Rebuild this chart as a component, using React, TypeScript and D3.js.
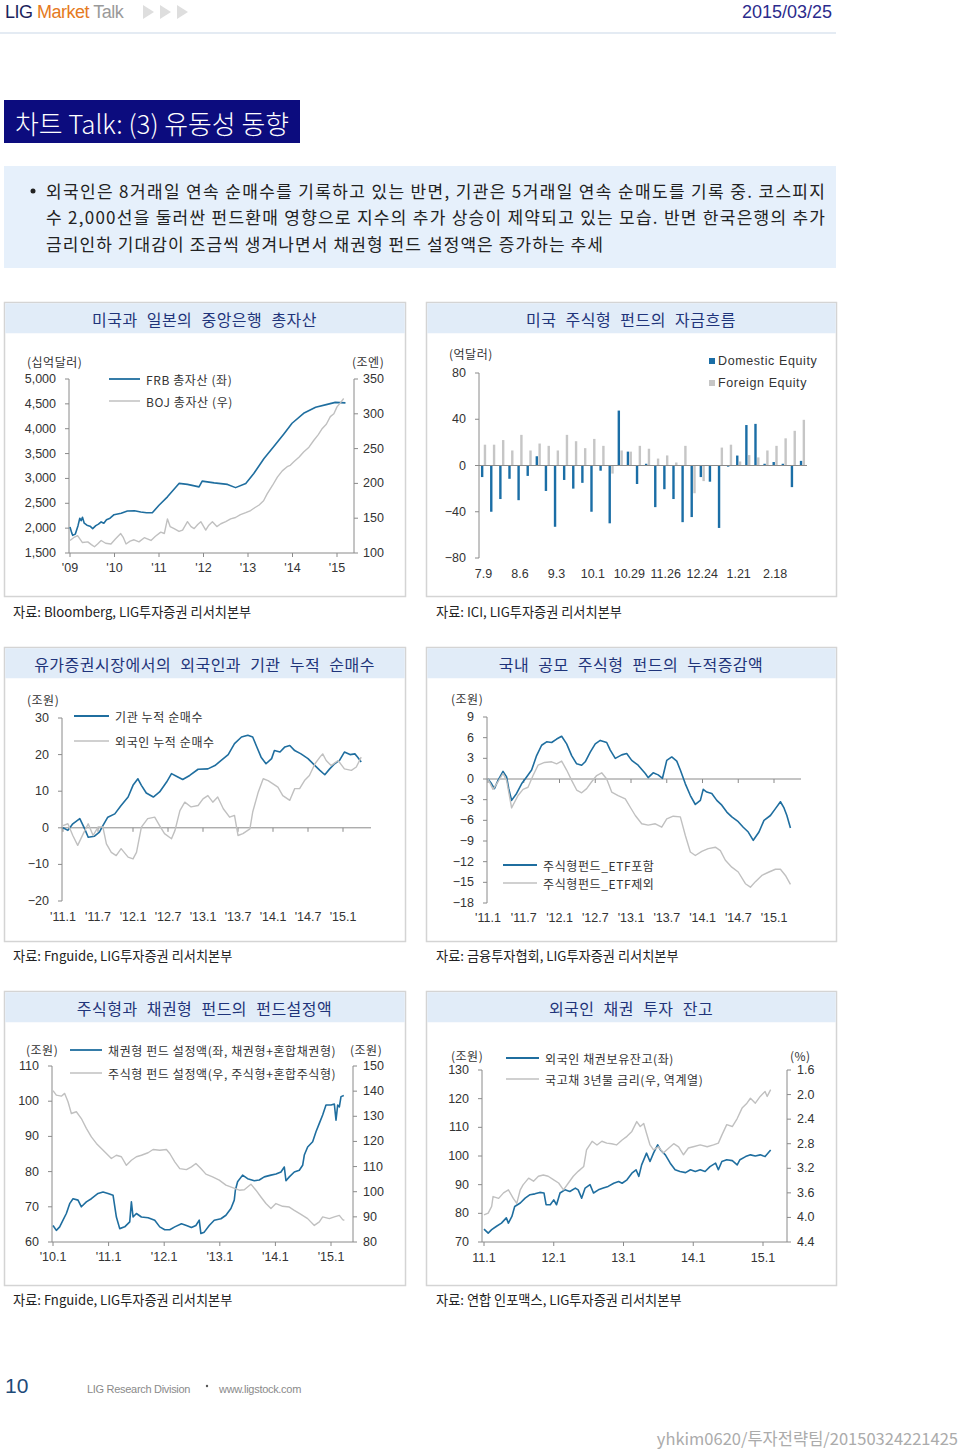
import React from 'react';
import * as d3 from 'd3';

// ---------- Chart 1: 미국과 일본의 중앙은행 총자산 ----------
const c1Years = [2009, 2010, 2011, 2012, 2013, 2014, 2015];
const c1YearLabels = ["'09", "'10", "'11", "'12", "'13", "'14", "'15"];
const c1LeftTicks = [1500, 2000, 2500, 3000, 3500, 4000, 4500, 5000];
const c1RightTicks = [100, 150, 200, 250, 300, 350];
const frbAssets: [number, number][] = [
  [2009.0, 2024], [2009.04, 1900], [2009.06, 1856], [2009.12, 1880], [2009.18, 2050], [2009.22, 2200],
  [2009.25, 2150], [2009.28, 2220], [2009.32, 2100], [2009.38, 2060], [2009.45, 2040], [2009.51, 1990],
  [2009.58, 2050], [2009.64, 2080], [2009.7, 2125], [2009.76, 2100], [2009.82, 2170], [2009.9, 2200],
  [2009.99, 2270], [2010.15, 2300], [2010.29, 2345], [2010.45, 2350], [2010.59, 2325], [2010.72, 2310],
  [2010.85, 2310], [2011.0, 2460], [2011.19, 2630], [2011.45, 2900], [2011.64, 2880], [2011.9, 2830],
  [2011.97, 2945], [2012.24, 2910], [2012.54, 2880], [2012.72, 2815], [2012.95, 2900], [2013.13, 3100],
  [2013.36, 3400], [2013.58, 3640], [2013.81, 3900], [2013.99, 4110], [2014.25, 4310], [2014.52, 4430],
  [2014.78, 4490], [2014.96, 4530], [2015.19, 4520],
];
const bojAssets: [number, number][] = [
  [2009.0, 118], [2009.08, 122], [2009.17, 125], [2009.28, 115], [2009.4, 116], [2009.48, 112],
  [2009.55, 109], [2009.62, 113], [2009.7, 118], [2009.8, 114], [2009.92, 113], [2010.02, 120],
  [2010.14, 128], [2010.2, 122], [2010.26, 113], [2010.35, 117], [2010.44, 119], [2010.55, 116],
  [2010.67, 122], [2010.75, 120], [2010.82, 118], [2010.92, 124], [2011.04, 130], [2011.12, 128],
  [2011.19, 149], [2011.25, 138], [2011.34, 135], [2011.45, 131], [2011.53, 133], [2011.64, 145],
  [2011.72, 138], [2011.79, 135], [2011.87, 141], [2011.94, 145], [2012.05, 133], [2012.12, 140],
  [2012.2, 145], [2012.3, 138], [2012.39, 142], [2012.5, 145], [2012.61, 149], [2012.72, 151],
  [2012.83, 155], [2012.95, 158], [2013.06, 161], [2013.15, 165], [2013.25, 169], [2013.35, 175],
  [2013.43, 185], [2013.55, 197], [2013.66, 209], [2013.77, 218], [2013.88, 224], [2013.95, 226],
  [2014.03, 231], [2014.15, 238], [2014.25, 245], [2014.37, 252], [2014.48, 262], [2014.58, 270],
  [2014.67, 279], [2014.76, 285], [2014.85, 296], [2014.93, 300], [2015.0, 310], [2015.08, 316],
  [2015.15, 322],
];

// ---------- Chart 2: 미국 주식형 펀드의 자금흐름 ----------
const fundWeeks = [
  '7.9', '7.16', '7.23', '7.30', '8.6', '8.13', '8.20', '8.27', '9.3', '9.10', '9.17', '9.24',
  '10.1', '10.8', '10.15', '10.22', '10.29', '11.5', '11.12', '11.19', '11.26', '12.3', '12.10', '12.17',
  '12.24', '12.31', '1.7', '1.14', '1.21', '1.28', '2.4', '2.11', '2.18', '2.25', '3.4', '3.11',
];
const domesticEquity = [
  -10, -40, -29, -11.5, -30, -9, 8, -22, -53, -12.5, -20, -15,
  -40, -4.5, -50, 47.5, 12, -16, 1.5, -36, -20.5, -29, -49, -44.6,
  -10, -14, -54, -1, 8.6, 35, 36, 1.5, 3, 1.5, -18.7, 4,
];
const foreignEquity = [
  18, 18, 22, 13, 26.5, 13, 19, 17, 13, 26.5, 21, 15,
  23, 17, -7, 13, 12, 17, 14.5, 6, 8.7, 2.6, 17, -24,
  -13.5, 0, 15.5, 18, 3.5, 9, 7, 13, 17, 23.5, 30, 39.5,
];
const c2Ticks = [-80, -40, 0, 40, 80];

// ---------- Chart 3: 외국인과 기관 누적 순매수 ----------
const halfYears = [2011, 2011.5, 2012, 2012.5, 2013, 2013.5, 2014, 2014.5, 2015];
const halfYearLabels = ["'11.1", "'11.7", "'12.1", "'12.7", "'13.1", "'13.7", "'14.1", "'14.7", "'15.1"];
const c3Ticks = [-20, -10, 0, 10, 20, 30];
const instNetBuy: [number, number][] = [
  [2011.0, 0], [2011.07, -0.7], [2011.14, 1.1], [2011.24, 2.5], [2011.31, -0.3], [2011.36, -2.6],
  [2011.45, -2.3], [2011.52, -1.2], [2011.57, 0.6], [2011.64, 2.9], [2011.74, 3.8], [2011.83, 6.1],
  [2011.93, 8.4], [2012.0, 11.6], [2012.07, 13.4], [2012.12, 11.6], [2012.19, 9.5], [2012.29, 8.4],
  [2012.38, 9.8], [2012.48, 12.5], [2012.55, 14.8], [2012.62, 14.1], [2012.71, 13.2], [2012.81, 14.3],
  [2012.93, 16.0], [2013.07, 16.1], [2013.17, 17.0], [2013.26, 18.4], [2013.36, 20.0], [2013.45, 23.0],
  [2013.55, 24.8], [2013.64, 25.3], [2013.71, 24.8], [2013.76, 22.5], [2013.83, 19.3], [2013.9, 17.5],
  [2013.98, 18.9], [2014.02, 21.1], [2014.1, 20.7], [2014.17, 22.1], [2014.24, 22.5], [2014.31, 21.1],
  [2014.4, 20.2], [2014.5, 18.9], [2014.6, 17.0], [2014.67, 15.7], [2014.74, 14.5], [2014.81, 16.1],
  [2014.88, 17.5], [2014.95, 18.4], [2015.02, 20.7], [2015.1, 20.0], [2015.17, 20.2], [2015.21, 19.3],
  [2015.26, 18.0],
];
const foreignNetBuy: [number, number][] = [
  [2011.0, 0.6], [2011.07, 1.1], [2011.14, -2.1], [2011.21, -4.8], [2011.29, -1.6], [2011.36, 1.1],
  [2011.43, -2.1], [2011.5, 0.2], [2011.57, 0.2], [2011.62, -4.4], [2011.69, -6.7], [2011.76, -7.6],
  [2011.83, -5.7], [2011.93, -8.0], [2012.0, -8.5], [2012.05, -6.7], [2012.12, 0.2], [2012.21, 2.5],
  [2012.31, 2.9], [2012.38, 0.6], [2012.45, -1.6], [2012.55, -3.0], [2012.6, -0.7], [2012.67, 4.7],
  [2012.74, 7.0], [2012.83, 5.7], [2012.93, 6.1], [2013.0, 7.9], [2013.07, 8.8], [2013.14, 7.0],
  [2013.21, 8.4], [2013.29, 5.2], [2013.38, 2.9], [2013.45, 3.4], [2013.5, -2.1], [2013.57, -1.6],
  [2013.67, -0.3], [2013.71, 4.3], [2013.79, 9.8], [2013.86, 13.4], [2013.93, 12.9], [2014.0, 12.0],
  [2014.07, 11.1], [2014.14, 8.8], [2014.24, 7.5], [2014.31, 10.7], [2014.38, 10.7], [2014.45, 12.9],
  [2014.52, 14.3], [2014.6, 17.5], [2014.67, 19.3], [2014.71, 20.2], [2014.76, 18.4], [2014.83, 17.0],
  [2014.93, 18.4], [2015.02, 16.1], [2015.12, 15.7], [2015.19, 16.6], [2015.26, 19.3],
];

// ---------- Chart 4: 국내 공모 주식형 펀드의 누적증감액 ----------
const c4Ticks = [-18, -15, -12, -9, -6, -3, 0, 3, 6, 9];
const equityFundInclEtf: [number, number][] = [
  [2011.0, 0], [2011.05, -0.7], [2011.09, -1.4], [2011.14, -0.2], [2011.21, 1.1], [2011.26, 0.3],
  [2011.29, -1.4], [2011.33, -3.1], [2011.4, -2.1], [2011.47, -0.7], [2011.54, 0.3], [2011.61, 1.3],
  [2011.68, 3.4], [2011.75, 4.9], [2011.82, 5.4], [2011.89, 5.3], [2011.96, 5.8], [2012.03, 6.2],
  [2012.1, 5.1], [2012.17, 3.4], [2012.24, 2.2], [2012.31, 2.0], [2012.36, 2.5], [2012.43, 3.9],
  [2012.5, 5.1], [2012.57, 5.6], [2012.66, 5.3], [2012.71, 4.2], [2012.78, 3.0], [2012.87, 3.5],
  [2012.94, 3.7], [2013.01, 2.7], [2013.1, 2.0], [2013.2, 0.8], [2013.24, 0.2], [2013.31, 0.9],
  [2013.38, 0.6], [2013.44, 0.1], [2013.5, 2.7], [2013.57, 3.2], [2013.64, 2.6], [2013.69, 1.3],
  [2013.76, -0.7], [2013.83, -2.4], [2013.9, -3.7], [2013.97, -3.1], [2014.01, -1.5], [2014.06, -1.9],
  [2014.13, -2.1], [2014.2, -3.1], [2014.27, -3.8], [2014.34, -4.8], [2014.41, -5.5], [2014.5, -6.2],
  [2014.57, -7.0], [2014.64, -7.7], [2014.71, -8.9], [2014.79, -7.7], [2014.86, -6.0], [2014.95, -5.3],
  [2015.02, -4.3], [2015.09, -3.3], [2015.14, -4.2], [2015.18, -5.3], [2015.23, -7.1],
];
const equityFundExclEtf: [number, number][] = [
  [2011.0, 0], [2011.07, -1.5], [2011.14, -0.4], [2011.21, 0.8], [2011.26, -0.2], [2011.33, -4.2],
  [2011.42, -2.4], [2011.49, -1.5], [2011.56, -1.2], [2011.63, 0.5], [2011.7, 2.0], [2011.79, 2.4],
  [2011.89, 2.5], [2011.96, 2.2], [2012.03, 2.6], [2012.1, 1.3], [2012.17, -0.2], [2012.24, -1.6],
  [2012.31, -2.0], [2012.38, -1.4], [2012.45, -0.4], [2012.52, 0.5], [2012.59, 0.9], [2012.66, 0.0],
  [2012.73, -1.9], [2012.82, -2.4], [2012.92, -2.9], [2012.99, -4.1], [2013.06, -5.3], [2013.15, -6.5],
  [2013.24, -6.7], [2013.34, -6.5], [2013.43, -7.0], [2013.5, -5.8], [2013.59, -5.4], [2013.69, -5.5],
  [2013.76, -8.2], [2013.83, -10.6], [2013.9, -11.1], [2013.99, -10.5], [2014.08, -10.1], [2014.18, -9.9],
  [2014.25, -10.4], [2014.32, -11.8], [2014.41, -12.8], [2014.5, -13.5], [2014.6, -15.2], [2014.67, -15.7],
  [2014.74, -14.9], [2014.83, -14.0], [2014.93, -13.5], [2015.02, -13.1], [2015.09, -13.1], [2015.16, -14.0],
  [2015.23, -15.3],
];

// ---------- Chart 5: 주식형과 채권형 펀드의 펀드설정액 ----------
const c5Years = [2010, 2011, 2012, 2013, 2014, 2015];
const c5YearLabels = ["'10.1", "'11.1", "'12.1", "'13.1", "'14.1", "'15.1"];
const c5LeftTicks = [60, 70, 80, 90, 100, 110];
const c5RightTicks = [80, 90, 100, 110, 120, 130, 140, 150];
const bondFundAum: [number, number][] = [
  [2010.0, 64.7], [2010.06, 63.3], [2010.12, 64.3], [2010.18, 66.2], [2010.24, 68.1], [2010.3, 70.9],
  [2010.36, 72.3], [2010.45, 71.9], [2010.51, 70.0], [2010.6, 71.4], [2010.69, 72.3], [2010.81, 73.8],
  [2010.9, 74.2], [2010.99, 73.8], [2011.08, 73.3], [2011.14, 67.1], [2011.2, 63.8], [2011.29, 64.3],
  [2011.38, 65.7], [2011.41, 71.4], [2011.44, 67.1], [2011.5, 68.1], [2011.59, 67.1], [2011.71, 66.9],
  [2011.83, 66.2], [2011.92, 64.3], [2012.01, 63.5], [2012.1, 63.5], [2012.19, 64.3], [2012.31, 65.2],
  [2012.4, 64.7], [2012.49, 64.1], [2012.57, 64.7], [2012.63, 66.2], [2012.66, 62.4], [2012.72, 62.8],
  [2012.81, 64.7], [2012.9, 66.2], [2013.02, 66.6], [2013.11, 67.6], [2013.2, 69.5], [2013.26, 71.9],
  [2013.28, 74.7], [2013.32, 77.1], [2013.41, 79.0], [2013.5, 78.0], [2013.62, 77.4], [2013.71, 77.6],
  [2013.8, 78.5], [2013.92, 79.0], [2014.01, 79.3], [2014.1, 79.9], [2014.16, 81.3], [2014.19, 77.4],
  [2014.25, 78.5], [2014.34, 79.9], [2014.43, 80.4], [2014.49, 81.8], [2014.52, 84.7], [2014.58, 87.0],
  [2014.67, 88.5], [2014.73, 91.3], [2014.79, 93.7], [2014.85, 96.1], [2014.91, 98.9], [2015.0, 98.9],
  [2015.06, 99.2], [2015.09, 94.6], [2015.12, 98.9], [2015.15, 98.4], [2015.18, 101.3], [2015.23, 101.6],
];
const equityFundAum: [number, number][] = [
  [2010.0, 140.2], [2010.06, 138.4], [2010.15, 138.0], [2010.21, 139.1], [2010.27, 135.8], [2010.33, 131.1],
  [2010.42, 131.8], [2010.51, 129.1], [2010.6, 125.2], [2010.69, 121.8], [2010.78, 119.2], [2010.87, 117.2],
  [2010.96, 115.2], [2011.05, 113.2], [2011.14, 114.5], [2011.23, 113.9], [2011.32, 110.5], [2011.41, 112.5],
  [2011.5, 113.9], [2011.59, 114.5], [2011.71, 115.5], [2011.8, 116.8], [2011.92, 116.5], [2012.04, 116.8],
  [2012.1, 115.2], [2012.19, 111.9], [2012.28, 109.2], [2012.4, 108.8], [2012.49, 109.9], [2012.57, 111.2],
  [2012.66, 109.2], [2012.75, 107.0], [2012.87, 105.9], [2012.99, 104.6], [2013.11, 102.6], [2013.23, 101.6],
  [2013.35, 100.6], [2013.44, 100.8], [2013.56, 103.0], [2013.65, 100.6], [2013.74, 97.9], [2013.83, 95.3],
  [2013.92, 93.3], [2014.01, 95.3], [2014.13, 94.2], [2014.25, 93.9], [2014.34, 92.6], [2014.46, 91.0],
  [2014.58, 89.3], [2014.7, 86.6], [2014.79, 88.0], [2014.85, 90.0], [2014.97, 89.3], [2015.06, 90.0],
  [2015.15, 90.6], [2015.21, 88.9], [2015.24, 88.6],
];

// ---------- Chart 6: 외국인 채권 투자 잔고 ----------
const c6Years = [2011, 2012, 2013, 2014, 2015];
const c6YearLabels = ['11.1', '12.1', '13.1', '14.1', '15.1'];
const c6LeftTicks = [70, 80, 90, 100, 110, 120, 130];
const c6RightTicks = [1.6, 2.0, 2.4, 2.8, 3.2, 3.6, 4.0, 4.4];
const foreignBondHoldings: [number, number][] = [
  [2011.0, 74.5], [2011.06, 73.1], [2011.11, 74.3], [2011.18, 75.5], [2011.25, 76.6], [2011.32, 78.4],
  [2011.35, 76.6], [2011.4, 78.9], [2011.44, 82.4], [2011.52, 83.6], [2011.59, 85.3], [2011.66, 86.5],
  [2011.73, 86.8], [2011.8, 87.3], [2011.86, 87.1], [2011.89, 83.0], [2011.95, 83.0], [2012.0, 84.7],
  [2012.04, 83.0], [2012.09, 87.1], [2012.16, 88.2], [2012.23, 87.6], [2012.31, 88.8], [2012.35, 88.2],
  [2012.4, 85.3], [2012.45, 88.8], [2012.52, 90.0], [2012.57, 87.1], [2012.64, 88.2], [2012.71, 88.8],
  [2012.78, 89.4], [2012.86, 90.5], [2012.93, 91.1], [2012.98, 90.5], [2013.05, 91.7], [2013.12, 94.0],
  [2013.18, 95.2], [2013.22, 92.9], [2013.26, 96.9], [2013.33, 101.0], [2013.38, 98.1], [2013.43, 101.0],
  [2013.49, 103.9], [2013.53, 102.1], [2013.6, 100.4], [2013.67, 97.5], [2013.74, 95.2], [2013.81, 94.6],
  [2013.89, 94.2], [2013.96, 95.2], [2014.03, 94.6], [2014.1, 95.2], [2014.17, 94.6], [2014.24, 96.3],
  [2014.32, 97.5], [2014.36, 95.2], [2014.41, 98.1], [2014.48, 98.7], [2014.56, 98.4], [2014.63, 96.9],
  [2014.67, 98.7], [2014.75, 99.8], [2014.82, 100.4], [2014.89, 100.0], [2014.96, 100.4], [2015.03, 99.8],
  [2015.11, 102.1],
];
const ktb3yYield: [number, number][] = [
  [2011.0, 3.96], [2011.06, 3.93], [2011.11, 3.82], [2011.13, 3.66], [2011.21, 3.69], [2011.28, 3.6],
  [2011.35, 3.55], [2011.42, 3.69], [2011.47, 3.77], [2011.52, 3.55], [2011.56, 3.47], [2011.64, 3.36],
  [2011.71, 3.41], [2011.78, 3.33], [2011.85, 3.31], [2011.92, 3.33], [2012.0, 3.39], [2012.07, 3.44],
  [2012.14, 3.55], [2012.21, 3.44], [2012.28, 3.33], [2012.35, 3.25], [2012.43, 3.17], [2012.47, 2.9],
  [2012.55, 2.76], [2012.62, 2.82], [2012.69, 2.76], [2012.76, 2.79], [2012.83, 2.8], [2012.9, 2.82],
  [2012.98, 2.74], [2013.05, 2.68], [2013.12, 2.6], [2013.19, 2.44], [2013.24, 2.52], [2013.29, 2.47],
  [2013.33, 2.63], [2013.38, 2.82], [2013.43, 2.9], [2013.5, 2.85], [2013.57, 2.95], [2013.65, 2.87],
  [2013.72, 2.8], [2013.79, 2.85], [2013.86, 2.98], [2013.93, 2.87], [2014.0, 2.85], [2014.1, 2.82],
  [2014.2, 2.85], [2014.29, 2.82], [2014.36, 2.79], [2014.41, 2.66], [2014.48, 2.49], [2014.56, 2.52],
  [2014.63, 2.39], [2014.7, 2.22], [2014.77, 2.14], [2014.82, 2.06], [2014.89, 2.14], [2014.96, 2.03],
  [2015.03, 1.95], [2015.06, 2.03], [2015.11, 1.92],
];

// ---------- page text ----------
const bulletLines = [
  '외국인은 8거래일 연속 순매수를 기록하고 있는 반면, 기관은 5거래일 연속 순매도를 기록 중. 코스피지',
  '수 2,000선을 둘러싼 펀드환매 영향으로 지수의 추가 상승이 제약되고 있는 모습. 반면 한국은행의 추가',
  '금리인하 기대감이 조금씩 생겨나면서 채권형 펀드 설정액은 증가하는 추세',
];
const bulletWidths = [779, 779, 557];

const KF = '"Noto Sans CJK KR", "Noto Sans", sans-serif';
const NF = '"Liberation Sans", Arial, sans-serif';
const BLUE = '#1f6e9f';
const GRAY = '#c0c0c0';
const AXIS = '#8a8a8a';
const TXT = '#333333';

const minus = (v: number, f: (n: number) => string = (n) => String(n)) =>
  v < 0 ? '\u2212' + f(-v) : f(v);

type Scale = d3.ScaleLinear<number, number>;

function Panel({ x0, y0, x1, y1, title }: { x0: number; y0: number; x1: number; y1: number; title: string }) {
  return (
    <g>
      <rect x={x0 + 0.5} y={y0 + 0.5} width={x1 - x0} height={y1 - y0} fill="#fff" stroke="#d4d4d4" strokeWidth={1.5} />
      <rect x={x0 + 1.25} y={y0 + 1.25} width={x1 - x0 - 1.5} height={30} fill="#e1ecf8" />
      <text x={(x0 + x1) / 2} y={y0 + 17} textAnchor="middle" dominantBaseline="central" fontSize={16}
        fill="#1f347a" fontFamily={KF} style={{ wordSpacing: '5px', letterSpacing: '0.5px' }}>{title}</text>
    </g>
  );
}

function YAxis({ scale, ticks, x, side, fmt, labelX }: {
  scale: Scale; ticks: number[]; x: number; side: 'left' | 'right'; fmt: (v: number) => string; labelX: number;
}) {
  const r = scale.range();
  return (
    <g>
      <line x1={x} x2={x} y1={r[0]} y2={r[1]} stroke={AXIS} strokeWidth={1} />
      {ticks.map((t) => (
        <g key={t}>
          <line x1={x} x2={side === 'left' ? x - 4 : x + 4} y1={scale(t)} y2={scale(t)} stroke={AXIS} />
          <text x={labelX} y={scale(t)} textAnchor={side === 'left' ? 'end' : 'start'} dominantBaseline="central"
            fontSize={12.5} fill={TXT} fontFamily={NF}>{fmt(t)}</text>
        </g>
      ))}
    </g>
  );
}

function XAxis({ scale, ticks, labels, y, x0, x1, labelY }: {
  scale: Scale; ticks: number[]; labels: string[]; y: number; x0: number; x1: number; labelY: number;
}) {
  return (
    <g>
      <line x1={x0} x2={x1} y1={y} y2={y} stroke={AXIS} strokeWidth={1} />
      {ticks.map((t, i) => (
        <g key={t}>
          <line x1={scale(t)} x2={scale(t)} y1={y} y2={y + 4} stroke={AXIS} />
          <text x={scale(t)} y={labelY} textAnchor="middle" dominantBaseline="central" fontSize={12.5}
            fill={TXT} fontFamily={NF}>{labels[i]}</text>
        </g>
      ))}
    </g>
  );
}

function Series({ data, xs, ys, color, width }: {
  data: [number, number][]; xs: Scale; ys: Scale; color: string; width: number;
}) {
  const path = d3.line<[number, number]>().x((d) => xs(d[0])).y((d) => ys(d[1]))(data) || '';
  return <path d={path} fill="none" stroke={color} strokeWidth={width} strokeLinejoin="round" />;
}

function LegendLine({ x0, x1, y, color, label, width }: {
  x0: number; x1: number; y: number; color: string; label: string; width: number;
}) {
  return (
    <g>
      <line x1={x0} x2={x1} y1={y} y2={y} stroke={color} strokeWidth={width} />
      <text x={x1 + 6} y={y} dominantBaseline="central" fontSize={12} fill={TXT} fontFamily={KF}
        style={{ letterSpacing: '0.6px' }}>{label}</text>
    </g>
  );
}

function Unit({ x, y, text, anchor = 'start' }: { x: number; y: number; text: string; anchor?: string }) {
  return (
    <text x={x} y={y} textAnchor={anchor} dominantBaseline="central" fontSize={12} fill={TXT} fontFamily={KF}
      style={{ letterSpacing: '0.5px' }}>{text}</text>
  );
}

function Source({ x, y, text }: { x: number; y: number; text: string }) {
  return (
    <text x={x} y={y} dominantBaseline="central" fontSize={13.2} fill="#222" fontFamily={KF}>{text}</text>
  );
}

export default function App() {
  // chart 1 scales
  const c1x = d3.scaleLinear().domain([2009, 2015]).range([70, 337]);
  const c1yL = d3.scaleLinear().domain([1500, 5000]).range([553, 379]);
  const c1yR = d3.scaleLinear().domain([100, 350]).range([553, 379]);
  const comma = d3.format(',');

  // chart 2 scales
  const c2x = d3.scaleBand<string>().domain(fundWeeks).range([479, 807]);
  const c2y = d3.scaleLinear().domain([-80, 80]).range([558, 373]);
  const bw = c2x.bandwidth();

  // chart 3
  const c3x = d3.scaleLinear().domain([2011, 2015]).range([63, 343]);
  const c3y = d3.scaleLinear().domain([-20, 30]).range([901, 718]);

  // chart 4
  const c4x = d3.scaleLinear().domain([2011, 2015]).range([488, 774]);
  const c4y = d3.scaleLinear().domain([-18, 9]).range([903, 717]);

  // chart 5
  const c5x = d3.scaleLinear().domain([2010, 2015]).range([53, 331]);
  const c5yL = d3.scaleLinear().domain([60, 110]).range([1242, 1066]);
  const c5yR = d3.scaleLinear().domain([80, 150]).range([1242, 1066]);

  // chart 6
  const c6x = d3.scaleLinear().domain([2011, 2015]).range([484, 763]);
  const c6yL = d3.scaleLinear().domain([70, 130]).range([1242, 1070]);
  const c6yR = d3.scaleLinear().domain([1.6, 4.4]).range([1070, 1242]);
  const f1 = d3.format('.1f');

  return (
    <svg width={960} height={1450} style={{ position: 'absolute', left: 0, top: 0, background: '#fff' }}
      fontFamily={KF}>
      {/* header */}
      <text x={5} y={12} dominantBaseline="central" fontSize={18} fontFamily={'"Liberation Sans Narrow", "Liberation Sans", Arial'}
        style={{ letterSpacing: '-0.5px' }}>
        <tspan fill="#1b1f5c">LIG </tspan>
        <tspan fill="#e57a22">Market </tspan>
        <tspan fill="#9a9a9a">Talk</tspan>
      </text>
      {[0, 1, 2].map((i) => (
        <path key={i} d={`M${143 + i * 17},5 L${154 + i * 17},12 L${143 + i * 17},19 Z`} fill="#dedede" />
      ))}
      <text x={832} y={12} textAnchor="end" dominantBaseline="central" fontSize={18} fill="#2b2b8c"
        fontFamily={'"Liberation Sans Narrow", "Liberation Sans", Arial'}>2015/03/25</text>
      <line x1={0} x2={836} y1={33} y2={33} stroke="#dbe5ef" strokeWidth={1.5} />

      {/* title box */}
      <rect x={4} y={100} width={296} height={43} fill="#0c0c7e" />
      <text x={15} y={122} dominantBaseline="central" fontSize={26} fill="#fff" fontFamily={KF} fontWeight={300}
        textLength={274} lengthAdjust="spacingAndGlyphs">차트 Talk: (3) 유동성 동향</text>

      {/* bullet box */}
      <rect x={4} y={166} width={832} height={102} fill="#e6f0fb" />
      <circle cx={33} cy={191} r={2.5} fill="#222" />
      {bulletLines.map((l, i) => (
        <text key={i} x={46} y={190 + i * 26.5} dominantBaseline="central" fontSize={17} fill="#222" fontFamily={KF}
          textLength={bulletWidths[i]} lengthAdjust="spacing">{l}</text>
      ))}

      {/* ---------- chart 1 ---------- */}
      <Panel x0={4} y0={302} x1={405} y1={596} title="미국과 일본의 중앙은행 총자산" />
      <Unit x={27} y={361} text="(십억달러)" />
      <Unit x={352} y={361} text="(조엔)" />
      <YAxis scale={c1yL} ticks={c1LeftTicks} x={69} side="left" fmt={(v) => comma(v)} labelX={56} />
      <YAxis scale={c1yR} ticks={c1RightTicks} x={354} side="right" fmt={(v) => String(v)} labelX={363} />
      <XAxis scale={c1x} ticks={c1Years} labels={c1YearLabels} y={553} x0={69} x1={354} labelY={568} />
      <Series data={frbAssets} xs={c1x} ys={c1yL} color={BLUE} width={1.6} />
      <Series data={bojAssets} xs={c1x} ys={c1yR} color={GRAY} width={1.4} />
      <LegendLine x0={109} x1={140} y={379} color={BLUE} width={1.8} label="FRB  총자산 (좌)" />
      <LegendLine x0={109} x1={140} y={401} color={GRAY} width={1.5} label="BOJ 총자산 (우)" />
      <Source x={13} y={611} text="자료: Bloomberg, LIG투자증권 리서치본부" />

      {/* ---------- chart 2 ---------- */}
      <Panel x0={426} y0={302} x1={836} y1={596} title="미국 주식형 펀드의 자금흐름" />
      <Unit x={449} y={353} text="(억달러)" />
      <YAxis scale={c2y} ticks={c2Ticks} x={479} side="left" fmt={(v) => minus(v)} labelX={466} />
      {fundWeeks.map((w, i) => {
        const cx = (c2x(w) as number) + bw / 2;
        const d = domesticEquity[i];
        const f = foreignEquity[i];
        return (
          <g key={w}>
            <rect x={cx - 2.6} width={2.4} y={Math.min(c2y(d), c2y(0))} height={Math.abs(c2y(d) - c2y(0))} fill="#1b6ea6" />
            <rect x={cx + 0.2} width={2.4} y={Math.min(c2y(f), c2y(0))} height={Math.abs(c2y(f) - c2y(0))} fill="#c6c6c6" />
          </g>
        );
      })}
      <line x1={479} x2={807} y1={c2y(0)} y2={c2y(0)} stroke={AXIS} />
      {fundWeeks.map((w, i) => i % 4 === 0 ? (
        <text key={w} x={(c2x(w) as number) + bw / 2} y={574} textAnchor="middle" dominantBaseline="central"
          fontSize={12.5} fill={TXT} fontFamily={NF}>{w}</text>
      ) : null)}
      <rect x={709} y={358} width={6} height={6} fill="#1b6ea6" />
      <text x={718} y={361} dominantBaseline="central" fontSize={12.5} fill={TXT} fontFamily={NF}
        style={{ letterSpacing: '0.6px' }}>Domestic Equity</text>
      <rect x={709} y={380} width={6} height={6} fill="#c6c6c6" />
      <text x={718} y={383} dominantBaseline="central" fontSize={12.5} fill={TXT} fontFamily={NF}
        style={{ letterSpacing: '0.6px' }}>Foreign Equity</text>
      <Source x={436} y={611} text="자료: ICI, LIG투자증권 리서치본부" />

      {/* ---------- chart 3 ---------- */}
      <Panel x0={4} y0={647} x1={405} y1={941} title="유가증권시장에서의 외국인과 기관 누적 순매수" />
      <Unit x={27} y={699} text="(조원)" />
      <YAxis scale={c3y} ticks={c3Ticks} x={62} side="left" fmt={(v) => minus(v)} labelX={49} />
      <XAxis scale={c3x} ticks={halfYears} labels={halfYearLabels} y={c3y(0)} x0={62} x1={371} labelY={917} />
      <Series data={instNetBuy} xs={c3x} ys={c3y} color={BLUE} width={1.6} />
      <Series data={foreignNetBuy} xs={c3x} ys={c3y} color={GRAY} width={1.4} />
      <LegendLine x0={74} x1={109} y={716} color={BLUE} width={1.8} label="기관 누적 순매수" />
      <LegendLine x0={74} x1={109} y={741} color={GRAY} width={1.5} label="외국인 누적 순매수" />
      <Source x={13} y={955} text="자료: Fnguide, LIG투자증권 리서치본부" />

      {/* ---------- chart 4 ---------- */}
      <Panel x0={426} y0={647} x1={836} y1={941} title="국내 공모 주식형 펀드의 누적증감액" />
      <Unit x={451} y={698} text="(조원)" />
      <YAxis scale={c4y} ticks={c4Ticks} x={487} side="left" fmt={(v) => minus(v)} labelX={474} />
      <XAxis scale={c4x} ticks={halfYears} labels={halfYearLabels} y={c4y(0)} x0={487} x1={801} labelY={918} />
      <Series data={equityFundInclEtf} xs={c4x} ys={c4y} color={BLUE} width={1.6} />
      <Series data={equityFundExclEtf} xs={c4x} ys={c4y} color={GRAY} width={1.4} />
      <LegendLine x0={503} x1={537} y={865} color={BLUE} width={1.8} label="주식형펀드_ETF포함" />
      <LegendLine x0={503} x1={537} y={883} color={GRAY} width={1.5} label="주식형펀드_ETF제외" />
      <Source x={436} y={955} text="자료: 금융투자협회, LIG투자증권 리서치본부" />

      {/* ---------- chart 5 ---------- */}
      <Panel x0={4} y0={991} x1={405} y1={1285} title="주식형과 채권형 펀드의 펀드설정액" />
      <Unit x={26} y={1049} text="(조원)" />
      <Unit x={350} y={1049} text="(조원)" />
      <YAxis scale={c5yL} ticks={c5LeftTicks} x={52} side="left" fmt={(v) => String(v)} labelX={39} />
      <YAxis scale={c5yR} ticks={c5RightTicks} x={353} side="right" fmt={(v) => String(v)} labelX={363} />
      <XAxis scale={c5x} ticks={c5Years} labels={c5YearLabels} y={1242} x0={52} x1={353} labelY={1257} />
      <Series data={bondFundAum} xs={c5x} ys={c5yL} color={BLUE} width={1.6} />
      <Series data={equityFundAum} xs={c5x} ys={c5yR} color={GRAY} width={1.4} />
      <LegendLine x0={70} x1={102} y={1050} color={BLUE} width={1.8} label="채권형 펀드 설정액(좌, 채권형+혼합채권형)" />
      <LegendLine x0={70} x1={102} y={1073} color={GRAY} width={1.5} label="주식형 펀드 설정액(우, 주식형+혼합주식형)" />
      <Source x={13} y={1299} text="자료: Fnguide, LIG투자증권 리서치본부" />

      {/* ---------- chart 6 ---------- */}
      <Panel x0={426} y0={991} x1={836} y1={1285} title="외국인 채권 투자 잔고" />
      <Unit x={451} y={1055} text="(조원)" />
      <Unit x={790} y={1055} text="(%)" />
      <YAxis scale={c6yL} ticks={c6LeftTicks} x={482} side="left" fmt={(v) => String(v)} labelX={469} />
      <YAxis scale={c6yR} ticks={c6RightTicks} x={787} side="right" fmt={(v) => f1(v)} labelX={797} />
      <XAxis scale={c6x} ticks={c6Years} labels={c6YearLabels} y={1242} x0={482} x1={787} labelY={1258} />
      <Series data={foreignBondHoldings} xs={c6x} ys={c6yL} color={BLUE} width={1.6} />
      <Series data={ktb3yYield} xs={c6x} ys={c6yR} color={GRAY} width={1.4} />
      <LegendLine x0={506} x1={539} y={1058} color={BLUE} width={1.8} label="외국인 채권보유잔고(좌)" />
      <LegendLine x0={506} x1={539} y={1079} color={GRAY} width={1.5} label="국고채 3년물 금리(우, 역계열)" />
      <Source x={436} y={1299} text="자료: 연합 인포맥스, LIG투자증권 리서치본부" />

      {/* footer */}
      <text x={5} y={1385} dominantBaseline="central" fontSize={21} fill="#1d4a78" fontFamily={NF}>10</text>
      <text x={87} y={1389} dominantBaseline="central" fontSize={11} fill="#8a8a8a" fontFamily={NF}
        style={{ letterSpacing: '-0.3px' }}>LIG Research Division</text>
      <circle cx={207} cy={1386} r={1.2} fill="#555" />
      <text x={219} y={1389} dominantBaseline="central" fontSize={11} fill="#8a8a8a" fontFamily={NF}
        style={{ letterSpacing: '-0.3px' }}>www.ligstock.com</text>
      <text x={958} y={1438} textAnchor="end" dominantBaseline="central" fontSize={16.5} fill="#ababab"
        fontFamily={KF}>yhkim0620/투자전략팀/20150324221425</text>
    </svg>
  );
}
